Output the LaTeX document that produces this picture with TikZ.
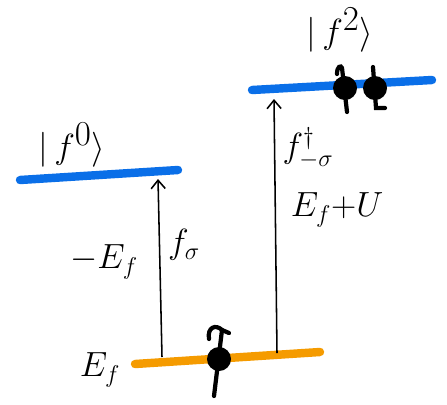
\documentclass[tikz,border=0pt]{standalone}
\usetikzlibrary{arrows.meta}
\definecolor{levelblue}{HTML}{0A6FE8}
\definecolor{levelorange}{HTML}{F59B00}
\begin{document}
\begin{tikzpicture}[
        x=0.025cm, y=-0.025cm,
        level/.style={line width=6pt, line cap=round},
        excite/.style={line width=1.1pt, -{Straight Barb[length=6pt, width=10pt]}},
        electron/.style={circle, fill=black, inner sep=0pt, minimum size=0.6cm},
        spin/.style={line width=3pt, line cap=round},
        ket/.style={font=\fontsize{34}{38}\selectfont, inner sep=1pt},
        lbl/.style={font=\fontsize{26}{30}\selectfont, inner sep=1pt},
    ]
        \useasboundingbox (0,0) rectangle (447,404);

        % Levels
        \draw[level, levelblue] (20,180) -- (178,170);
        \draw[level, levelblue] (252,90) -- (432,80);
        \draw[level, levelorange] (135,364) -- (320,352);

        % Ends of the excitations
        \coordinate (lowL) at (162,357);
        \coordinate (upL) at (158,179);
        \coordinate (lowR) at (277,353);
        \coordinate (upR) at (274,99);

        % Electrons
        \node[electron] (e0) at (219,359) {};
        \draw[spin] (214,396) -- (222,330);
        \draw[spin] (209,339) .. controls (207,327) and (216,324) .. (222,330) -- (229,333);
        \node[electron] (e1) at (345,88) {};
        \draw[spin] (347,112) -- (342,68);
        \draw[spin] (337,74) .. controls (337,66) and (341,65) .. (342,68);
        \node[electron] (e2) at (375,88) {};
        \draw[spin] (373,67) -- (376,108) -- (385,108);

        % States
        \node[ket] (k0) at (72,145) {$|\,f^{0}\rangle$};
        \node[ket] (k2) at (340,30) {$|\,f^{2}\rangle$};

        % Excitations
        \draw[excite] (lowL) -- (upL);
        \draw[excite] (lowR) -- (upR);

        % Labels
        \node[lbl] (fs) at (184,245) {$f_{\sigma}$};
        \node[lbl] (mef) at (104,262) {$-E_f$};
        \node[lbl] (ef) at (100,370) {$E_f$};
        \node[lbl] (fd) at (308,148) {$f^{\dagger}_{-\sigma}$};
        \node[lbl] (efu) at (337,210) {$E_f{+}U$};
    \end{tikzpicture}
\end{document}
